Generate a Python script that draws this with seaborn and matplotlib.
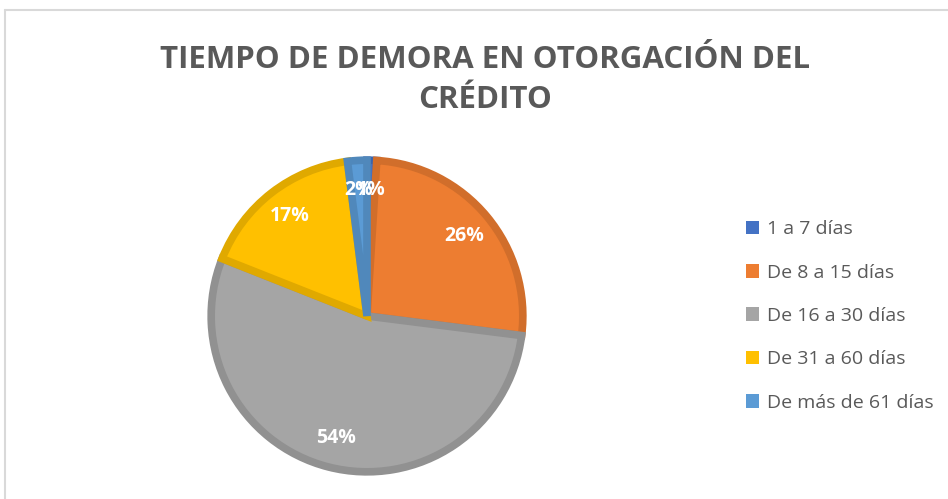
import matplotlib.pyplot as plt
import matplotlib.patches as mpatches
import seaborn as sns
from matplotlib.colors import to_rgb

# datos del gráfico
categorias = ['1 a 7 días', 'De 8 a 15 días', 'De 16 a 30 días',
              'De 31 a 60 días', 'De más de 61 días']
porcentajes = [1, 26, 54, 17, 2]
colores = ['#4472C4', '#ED7D31', '#A5A5A5', '#FFC000', '#5B9BD5']
titulo = 'TIEMPO DE DEMORA EN OTORGACIÓN DEL\nCRÉDITO'

sns.set_theme(style='white')
plt.rcParams['font.family'] = ['Open Sans', 'DejaVu Sans']

W, H = 948, 499
fig = plt.figure(figsize=(W / 100, H / 100), dpi=100)

# borde del área del gráfico (solo izquierda y arriba visibles)
fig.add_artist(plt.Line2D([5 / W, 5 / W], [0, 1 - 10 / H], color='#D9D9D9', lw=1.5))
fig.add_artist(plt.Line2D([5 / W, 1], [1 - 10 / H, 1 - 10 / H], color='#D9D9D9', lw=1.5))

# ejes del pastel: centro (367, 315), radio ~159 px
cx, cy, r = 367, 316, 159
side = 2 * r
ax = fig.add_axes([(cx - r) / W, (H - cy - r) / H, side / W, side / H])

bordes = [tuple(c * 0.88 for c in to_rgb(col)) for col in colores]
wedges, textos, autotextos = ax.pie(
    porcentajes, colors=colores, startangle=90, counterclock=False,
    autopct='%.0f%%', pctdistance=0.81, radius=0.98,
    wedgeprops=dict(linewidth=5.5, edgecolor='none'),
    textprops=dict(color='white', fontsize=14, fontweight='bold'))
for w, b in zip(wedges, bordes):
    w.set_edgecolor(b)
    w.set_joinstyle('miter')
ax.set_xlim(-1.0, 1.0)
ax.set_ylim(-1.0, 1.0)
ax.set_aspect('equal')
ax.axis('off')

fig.text(485 / W, 1 - 80 / H, titulo, ha='center', va='center',
         fontsize=22.5, fontweight='bold', color='#595959', linespacing=1.4)

handles = [mpatches.Patch(facecolor=c, edgecolor='none') for c in colores]
fig.legend(handles, categorias, loc='center left',
           bbox_to_anchor=(728 / W, 1 - 316 / H), frameon=False,
           fontsize=14, labelcolor='#595959', handlelength=0.7,
           handleheight=0.7, handletextpad=0.4, labelspacing=1.3)

fig.savefig('out.png', dpi=100)
